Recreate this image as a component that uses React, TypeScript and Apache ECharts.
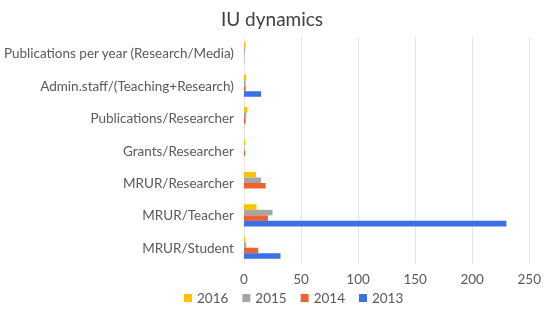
import React, { useEffect, useRef } from "react";
import * as echarts from "echarts";

// categories listed bottom-to-top
const categories = [
  "MRUR/Student",
  "MRUR/Teacher",
  "MRUR/Researcher",
  "Grants/Researcher",
  "Publications/Researcher",
  "Admin.staff/(Teaching+Research)",
  "Publications per year (Research/Media)",
];

const years = ["2016", "2015", "2014", "2013"];
const values2013 = [32, 230, 0, 0, 0.2, 15, 0.2];
const values2014 = [12.5, 21, 19, 1, 1.5, 1.5, 0.3];
const values2015 = [2, 25, 15, 0.5, 2, 1.5, 1];
const values2016 = [1, 11, 10.5, 1, 3, 2, 1.5];
const xTicks = [0, 50, 100, 150, 200, 250];

const colors: Record<string, string> = {
  "2013": "#3A6FE6",
  "2014": "#F0622D",
  "2015": "#A5A5A5",
  "2016": "#FFC000",
};

export default function App() {
  const ref = useRef<HTMLDivElement>(null);
  useEffect(() => {
    if (!ref.current) return;
    const chart = echarts.init(ref.current, undefined, { renderer: "svg" });
    const data = [values2016, values2015, values2014, values2013];
    const font = "Lato";
    chart.setOption({
      animation: false,
      textStyle: { fontFamily: font },
      title: {
        text: "IU dynamics",
        left: "center",
        top: 4,
        textStyle: { fontSize: 19, fontWeight: "normal", color: "#404040", fontFamily: font },
      },
      legend: {
        bottom: 3,
        left: 179,
        data: ["2016", "2015", "2014", "2013"],
        itemWidth: 8,
        itemHeight: 8,
        itemGap: 14,
        icon: "rect",
        textStyle: { fontSize: 13.5, color: "#595959", fontFamily: font },
      },
      grid: { left: 241, right: 12, top: 37, bottom: 49 },
      xAxis: {
        type: "value",
        min: xTicks[0],
        max: xTicks[xTicks.length - 1],
        interval: 50,
        axisLine: { show: false },
        axisTick: { show: false },
        axisLabel: { fontSize: 13.5, color: "#595959", margin: 8, fontFamily: font },
        splitLine: { lineStyle: { color: "#E3E6E6", width: 1 } },
      },
      yAxis: {
        type: "category",
        data: categories,
        axisLine: { show: false },
        axisTick: { show: false },
        axisLabel: { fontSize: 13.5, color: "#595959", margin: 10, fontFamily: font },
      },
      series: years.map((y, i) => ({
        name: y,
        type: "bar",
        data: data[i],
        barGap: "0%",
        barCategoryGap: "32%",
        itemStyle: { color: colors[y] },
      })),
    });
    return () => chart.dispose();
  }, []);
  return (
    <div
      ref={ref}
      style={{ position: "fixed", left: 0, top: 0, width: 544, height: 313 }}
    />
  );
}
